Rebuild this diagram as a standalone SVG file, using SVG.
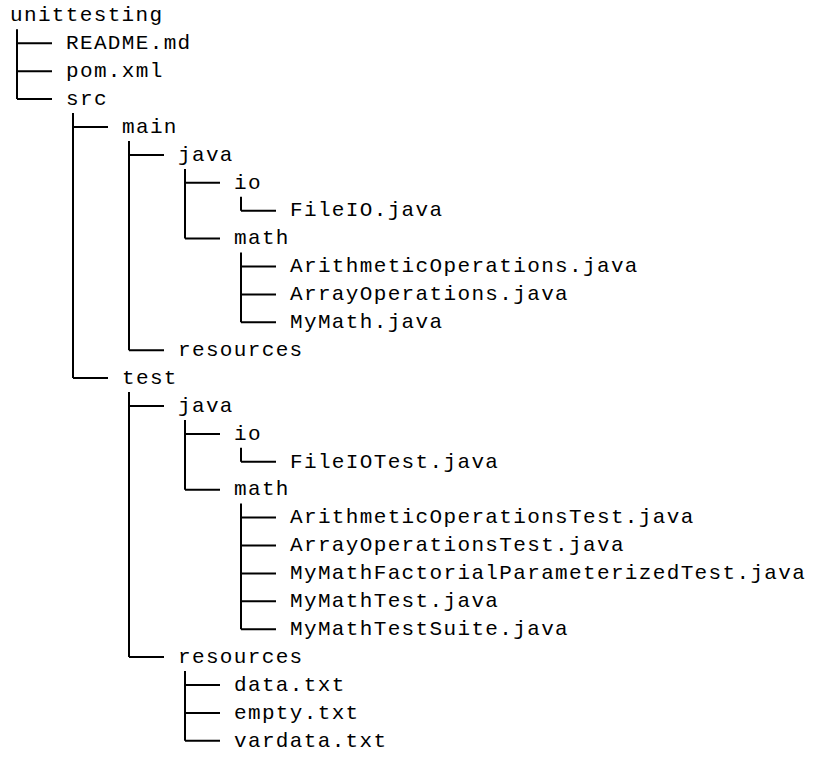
<svg xmlns="http://www.w3.org/2000/svg" width="830" height="768" viewBox="0 0 830 768">
<style>
text{font-family:"Liberation Mono","DejaVu Sans Mono",monospace;font-size:21px;letter-spacing:1.35px;fill:#000}
.c path{stroke:#000;stroke-width:2;fill:none}
</style>
<rect width="830" height="768" fill="#fff"/>
<g class="c" id="connectors">
<path d="M17 29.3V99.1M17 43.3H52M17 71.2H52M17 99.1H52"/>
<path d="M73 113V378.1M73 127H108M73 378.1H108"/>
<path d="M129 141V350.2M129 154.9H164M129 350.2H164"/>
<path d="M185 169V238.6M185 182.8H220M185 238.6H220"/>
<path d="M241 196.7V210.7M241 210.7H276"/>
<path d="M241 252.5V322.3M241 266.5H276M241 294.4H276M241 322.3H276"/>
<path d="M129 392V657.1M129 406H164M129 657.1H164"/>
<path d="M185 420V489.7M185 433.9H220M185 489.7H220"/>
<path d="M241 447.8V461.8M241 461.8H276"/>
<path d="M241 503.6V629.2M241 517.6H276M241 545.5H276M241 573.4H276M241 601.3H276M241 629.2H276"/>
<path d="M185 671V740.8M185 685H220M185 712.9H220M185 740.8H220"/>
</g>
<g id="n-unittesting"><text x="10" y="21.1">unittesting</text></g>
<g id="n-readme"><text x="66" y="49">README.md</text></g>
<g id="n-pom"><text x="66" y="76.9">pom.xml</text></g>
<g id="n-src"><text x="66" y="104.8">src</text></g>
<g id="n-main"><text x="122" y="132.7">main</text></g>
<g id="n-main-java"><text x="178" y="160.6">java</text></g>
<g id="n-main-io"><text x="234" y="188.5">io</text></g>
<g id="n-fileio"><text x="290" y="216.4">FileIO.java</text></g>
<g id="n-main-math"><text x="234" y="244.3">math</text></g>
<g id="n-arith"><text x="290" y="272.2">ArithmeticOperations.java</text></g>
<g id="n-array"><text x="290" y="300.1">ArrayOperations.java</text></g>
<g id="n-mymath"><text x="290" y="328">MyMath.java</text></g>
<g id="n-main-res"><text x="178" y="355.9">resources</text></g>
<g id="n-test"><text x="122" y="383.8">test</text></g>
<g id="n-test-java"><text x="178" y="411.7">java</text></g>
<g id="n-test-io"><text x="234" y="439.6">io</text></g>
<g id="n-fileiotest"><text x="290" y="467.5">FileIOTest.java</text></g>
<g id="n-test-math"><text x="234" y="495.4">math</text></g>
<g id="n-aritht"><text x="290" y="523.3">ArithmeticOperationsTest.java</text></g>
<g id="n-arrayt"><text x="290" y="551.2">ArrayOperationsTest.java</text></g>
<g id="n-fact"><text x="290" y="579.1">MyMathFactorialParameterizedTest.java</text></g>
<g id="n-mymatht"><text x="290" y="607">MyMathTest.java</text></g>
<g id="n-suite"><text x="290" y="634.9">MyMathTestSuite.java</text></g>
<g id="n-test-res"><text x="178" y="662.8">resources</text></g>
<g id="n-data"><text x="234" y="690.7">data.txt</text></g>
<g id="n-empty"><text x="234" y="718.6">empty.txt</text></g>
<g id="n-vardata"><text x="234" y="746.5">vardata.txt</text></g>
</svg>
